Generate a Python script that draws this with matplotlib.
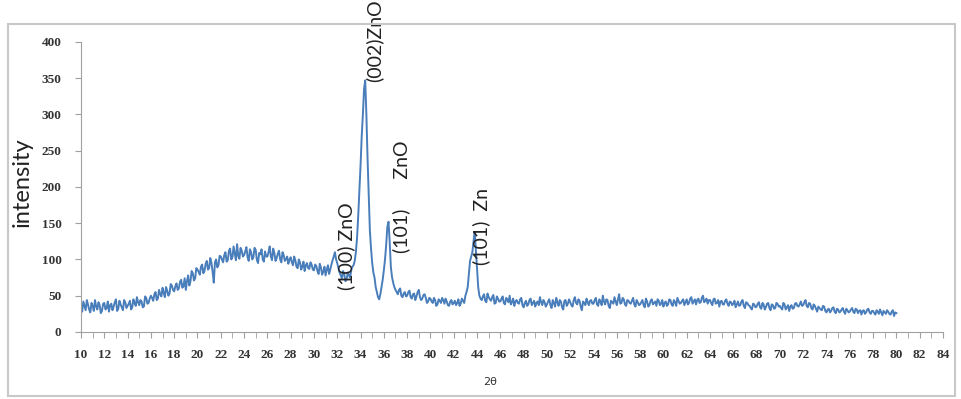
import numpy as np
import matplotlib
matplotlib.use("Agg")
import matplotlib.pyplot as plt
from matplotlib.patches import Rectangle

# XRD pattern.
# intensity_even: 2theta = 10.0, 10.2, ... 80.0
intensity_even = [
    34, 42, 30, 38, 27, 36, 44, 31, 37, 29,       # 10 - 11.8
    40, 33, 28, 39, 35, 45, 32, 38, 30, 41,       # 12 - 13.8
    36, 43, 34, 40, 48, 37, 42, 35, 47, 40,       # 14 - 15.8
    50, 43, 55, 46, 52, 61, 48, 57, 53, 64,       # 16 - 17.8
    56, 67, 60, 72, 63, 58, 78, 70, 81, 74,       # 18 - 19.8
    86, 79, 93, 84, 98, 88, 95, 68, 100, 92,      # 20 - 21.8
    104, 96, 110, 99, 115, 103, 108, 121, 101, 112,  # 22 - 23.8
    106, 117, 98, 110, 103, 113, 95, 107, 100, 111,  # 24 - 25.8
    104, 118, 99, 109, 102, 112, 96, 106, 100, 94,   # 26 - 27.8
    103, 92, 99, 88, 96, 90, 84, 95, 87, 93,      # 28 - 29.8
    85, 91, 80, 89, 83, 78, 92, 86, 99, 110,      # 30 - 31.8
    95, 82, 74, 80, 72, 78, 85, 92, 110, 160,     # 32 - 33.8
    230, 300, 347, 240, 140, 95, 75, 55, 45, 62,  # 34 - 35.8
    85, 120, 152, 90, 68, 58, 52, 60, 48, 55,     # 36 - 37.8
    50, 57, 46, 53, 49, 58, 44, 51, 47, 42,       # 38 - 39.8
    46, 40, 44, 38, 43, 47, 39, 42, 36, 44,       # 40 - 41.8
    40, 37, 45, 39, 43, 50, 62, 98, 110, 138,     # 42 - 43.8
    85, 50, 44, 52, 41, 48, 43, 51, 40, 46,       # 44 - 45.8
    42, 49, 38, 45, 50, 41, 36, 44, 39, 47,       # 46 - 47.8
    34, 43, 38, 46, 40, 35, 42, 48, 37, 41,       # 48 - 49.8
    38, 45, 33, 40, 47, 36, 42, 31, 44, 39,       # 50 - 51.8
    41, 35, 48, 38, 43, 30, 40, 46, 37, 44,       # 52 - 53.8
    39, 47, 36, 42, 50, 38, 44, 33, 41, 48,       # 54 - 55.8
    37, 52, 40, 45, 36, 43, 39, 47, 35, 41,       # 56 - 57.8
    38, 44, 34, 42, 37, 45, 40, 36, 43, 39,       # 58 - 59.8
    35, 42, 38, 44, 36, 41, 47, 39, 43, 37,       # 60 - 61.8
    45, 40, 48, 42, 38, 46, 41, 50, 43, 39,       # 62 - 63.8
    44, 37, 46, 40, 35, 43, 38, 45, 36, 41,       # 64 - 65.8
    39, 34, 42, 37, 44, 33, 40, 36, 31, 38,       # 66 - 67.8
    35, 41, 32, 38, 34, 40, 30, 37, 33, 39,       # 68 - 69.8
    36, 31, 38, 34, 29, 37, 33, 40, 35, 42,       # 70 - 71.8
    37, 44, 34, 39, 31, 36, 28, 33, 30, 35,       # 72 - 73.8
    27, 32, 29, 34, 26, 31, 28, 33, 25, 30,       # 74 - 75.8
    28, 33, 26, 31, 29, 24, 30, 27, 32, 25,       # 76 - 77.8
    29, 24, 28, 31, 23, 27, 30, 25, 28, 22,       # 78 - 79.8
    26,                                           # 80
]
# intensity_odd: 2theta = 10.1, 10.3, ... 79.9
intensity_odd = [
    28, 36, 44, 31, 40, 29, 35, 41, 26, 39,       # 10.1 - 11.9
    31, 42, 37, 30, 41, 29, 43, 34, 44, 33,       # 12.1 - 13.9
    39, 31, 45, 36, 41, 44, 34, 49, 39, 46,       # 14.1 - 15.9
    47, 52, 44, 58, 49, 54, 62, 50, 66, 58,       # 16.1 - 17.9
    63, 58, 69, 61, 74, 70, 64, 84, 71, 88,       # 18.1 - 19.9
    83, 90, 81, 94, 86, 102, 83, 96, 89, 105,     # 20.1 - 21.9
    100, 106, 97, 112, 100, 118, 99, 105, 116, 104,  # 22.1 - 23.9
    111, 103, 114, 100, 116, 99, 109, 114, 97, 104,  # 24.1 - 25.9
    110, 104, 115, 98, 108, 100, 110, 98, 104, 100,  # 26.1 - 27.9
    96, 104, 90, 100, 86, 97, 92, 88, 96, 86,     # 28.1 - 29.9
    93, 84, 94, 79, 90, 86, 80, 93, 104, 100,     # 30.1 - 31.9
    88, 78, 84, 70, 82, 75, 90, 98, 130, 195,     # 32.1 - 33.9
    270, 335, 300, 190, 115, 82, 62, 48, 52, 72,  # 34.1 - 35.9
    100, 145, 125, 76, 62, 55, 58, 50, 53, 49,    # 36.1 - 37.9
    55, 48, 52, 44, 55, 48, 46, 52, 40, 47,       # 38.1 - 39.9
    42, 47, 36, 45, 40, 44, 46, 37, 42, 38,       # 40.1 - 41.9
    43, 40, 36, 46, 40, 55, 80, 104, 125, 112,    # 42.1 - 43.9
    62, 46, 49, 43, 53, 45, 48, 39, 49, 42,       # 44.1 - 45.9
    46, 40, 47, 41, 38, 46, 42, 40, 45, 37,       # 46.1 - 47.9
    40, 36, 44, 37, 43, 40, 37, 41, 44, 35,       # 48.1 - 49.9
    42, 37, 44, 35, 41, 44, 34, 43, 36, 45,       # 50.1 - 51.9
    37, 44, 40, 45, 35, 42, 37, 41, 43, 39,       # 52.1 - 53.9
    44, 38, 45, 37, 42, 45, 36, 43, 39, 42,       # 54.1 - 55.9
    45, 39, 47, 38, 44, 40, 43, 38, 44, 37,       # 56.1 - 57.9
    41, 37, 46, 35, 43, 38, 42, 45, 37, 44,       # 58.1 - 59.9
    40, 36, 45, 38, 44, 36, 43, 40, 45, 41,       # 60.1 - 61.9
    38, 46, 39, 45, 44, 40, 47, 41, 46, 44,       # 62.1 - 63.9
    40, 45, 39, 44, 42, 38, 43, 39, 42, 37,       # 64.1 - 65.9
    43, 38, 36, 42, 36, 41, 37, 33, 39, 34,       # 66.1 - 67.9
    39, 34, 40, 31, 39, 33, 38, 32, 40, 35,       # 68.1 - 69.9
    33, 40, 31, 37, 35, 32, 39, 36, 38, 36,       # 70.1 - 71.9
    41, 36, 40, 33, 38, 32, 35, 31, 36, 29,       # 72.1 - 73.9
    31, 27, 33, 28, 32, 27, 31, 28, 32, 27,       # 74.1 - 75.9
    31, 28, 32, 26, 30, 29, 25, 31, 27, 29,       # 76.1 - 77.9
    26, 30, 25, 27, 29, 25, 28, 24, 30, 27,       # 78.1 - 79.9
]

two_theta = np.linspace(10, 80, 701)
intensity = np.empty(701)
intensity[0::2] = intensity_even
intensity[1::2] = intensity_odd

# peak labels: (text, 2theta, intensity where the text starts)
peak_labels = ["(100) ZnO", "(002)ZnO", "(101)      ZnO", "(101)  Zn"]
label_x = [32.8, 35.2, 37.5, 44.4]
label_y = [58, 345, 109, 92]

x_ticks = np.arange(10, 85, 2)
y_ticks = np.arange(0, 401, 50)

fig = plt.figure(figsize=(9.62, 3.99), dpi=100)
ax = fig.add_axes([0.0842, 0.168, 0.896, 0.727])

# outer chart border
fig.patches.append(Rectangle((0.0083, 0.0075), 0.984, 0.932, transform=fig.transFigure,
                             fill=False, edgecolor="#c8c8c8", linewidth=1.5))

ax.plot(two_theta, intensity, color="#4a7ebb", linewidth=1.4)

for txt, lx, ly in zip(peak_labels, label_x, label_y):
    ax.text(lx, ly, txt, rotation=90, ha="center", va="bottom",
            fontsize=14, family="Lato", color="#222222")

ax.set_xlim(10, 84)
ax.set_ylim(0, 400)
ax.set_xticks(x_ticks)
ax.set_xticks(np.arange(10, 85, 1), minor=True)
ax.set_yticks(y_ticks)

tick_font = {"family": "Liberation Serif", "weight": "bold", "size": 9.5}
ax.set_xticklabels([str(v) for v in x_ticks], fontdict=tick_font, color="#333333")
ax.set_yticklabels([str(v) for v in y_ticks], fontdict=tick_font, color="#333333")
ax.tick_params(axis="both", which="both", direction="out", length=4, color="#a0a0a0")
ax.tick_params(axis="x", pad=8)
ax.tick_params(axis="y", pad=10)

for side in ["top", "right"]:
    ax.spines[side].set_visible(False)
for side in ["left", "bottom"]:
    ax.spines[side].set_color("#a0a0a0")

fig.text(0.023, 0.544, "intensity", rotation=90, ha="center", va="center",
         fontsize=17, family="Lato", color="#222222")
fig.text(0.509, 0.043, "2θ", ha="center", va="center", fontsize=8, color="#333333")

fig.savefig("out.png", dpi=100)
